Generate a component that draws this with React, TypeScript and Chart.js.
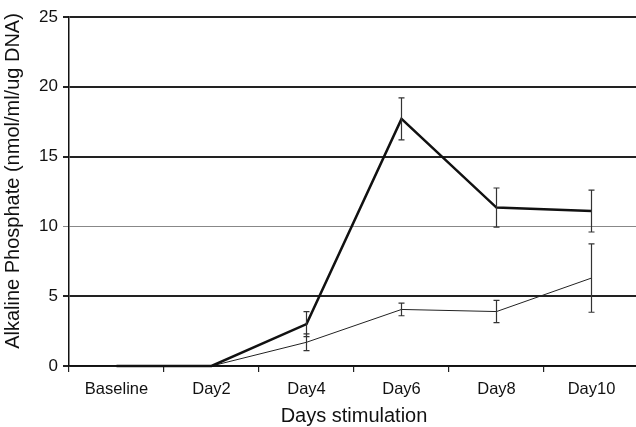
import React, { useEffect, useRef } from "react";
import { Chart, registerables } from "chart.js";

Chart.register(...registerables);

const categories = ["Baseline", "Day2", "Day4", "Day6", "Day8", "Day10"];
const upperSeries = [0, 0, 3.0, 17.7, 11.35, 11.1];
const upperErrors = [0, 0, 0.9, 1.5, 1.4, 1.5];
const lowerSeries = [0, 0, 1.7, 4.05, 3.9, 6.3];
const lowerErrors = [0, 0, 0.6, 0.45, 0.8, 2.45];
const yTicks = [0, 5, 10, 15, 20, 25];
const yTitle = "Alkaline Phosphate (nmol/ml/ug DNA)";
const xTitle = "Days stimulation";

const errorBarPlugin = {
  id: "errorBars",
  afterDatasetsDraw(chart: any) {
    const ctx = chart.ctx;
    const x = chart.scales.x;
    const y = chart.scales.y;
    chart.data.datasets.forEach((ds: any) => {
      const errs: number[] = ds.errors || [];
      ds.data.forEach((v: number, i: number) => {
        const e = errs[i];
        if (!e) return;
        const px = x.getPixelForValue(i);
        const top = y.getPixelForValue(v + e);
        const bot = y.getPixelForValue(v - e);
        ctx.save();
        ctx.strokeStyle = "#333";
        ctx.lineWidth = 1.2;
        ctx.beginPath();
        ctx.moveTo(px, top);
        ctx.lineTo(px, bot);
        ctx.moveTo(px - 3, top);
        ctx.lineTo(px + 3, top);
        ctx.moveTo(px - 3, bot);
        ctx.lineTo(px + 3, bot);
        ctx.stroke();
        ctx.restore();
      });
    });
  },
};

const yTitlePlugin = {
  id: "yTitle",
  afterDraw(chart: any) {
    const ctx = chart.ctx;
    ctx.save();
    ctx.translate(13, 181);
    ctx.rotate(-Math.PI / 2);
    ctx.fillStyle = "#111";
    ctx.font = "20px 'Liberation Sans'";
    ctx.textAlign = "center";
    ctx.textBaseline = "middle";
    ctx.fillText(yTitle, 0, 0);
    ctx.restore();
  },
};

export default function App() {
  const ref = useRef<HTMLCanvasElement>(null);
  useEffect(() => {
    document.body.style.margin = "0";
    const chart = new Chart(ref.current!, {
      type: "line",
      data: {
        labels: categories,
        datasets: [
          {
            data: upperSeries,
            errors: upperErrors,
            borderColor: "#111",
            borderWidth: 2.5,
            pointRadius: 0,
            tension: 0,
            fill: false,
            clip: false,
          } as any,
          {
            data: lowerSeries,
            errors: lowerErrors,
            borderColor: "#222",
            borderWidth: 1,
            pointRadius: 0,
            tension: 0,
            fill: false,
            clip: false,
          } as any,
        ],
      },
      options: {
        animation: false,
        responsive: false,
        layout: { padding: { top: 17, right: 1, bottom: 0, left: 0 } },
        plugins: { legend: { display: false }, tooltip: { enabled: false } },
        scales: {
          x: {
            offset: true,
            grid: {
              offset: true,
              drawOnChartArea: false,
              drawTicks: true,
              tickLength: 6,
              color: "#222",
              lineWidth: 1.2,
            },
            border: { display: true, color: "#111", width: 1.5 },
            ticks: {
              color: "#111",
              padding: 8,
              font: { family: "Liberation Sans", size: 16.5 },
              maxRotation: 0,
            },
            title: {
              display: true,
              text: xTitle,
              color: "#111",
              font: { family: "Liberation Sans", size: 20 },
              padding: { top: 0, bottom: -1 },
            },
            afterFit(scale: any) {
              scale.height = 61;
            },
          },
          y: {
            min: 0,
            max: 25,
            afterBuildTicks(scale: any) {
              scale.ticks = yTicks.map((v) => ({ value: v }));
            },
            grid: {
              drawTicks: true,
              tickLength: 6,
              color: (c: any) => (c.tick && c.tick.value === 10 ? "#888" : "#222"),
              lineWidth: (c: any) => (c.tick && c.tick.value === 10 ? 1 : 2),
            },
            border: { display: true, color: "#111", width: 1.5 },
            ticks: {
              color: "#111",
              padding: 5,
              font: { family: "Liberation Sans", size: 17 },
            },
            title: { display: false },
            afterFit(scale: any) {
              scale.width = 69;
            },
          },
        },
      },
      plugins: [errorBarPlugin, yTitlePlugin],
    });
    return () => chart.destroy();
  }, []);
  return (
    <div style={{ position: "fixed", left: 0, top: 0, width: 636, height: 427, overflow: "hidden", background: "#fff" }}>
      <canvas ref={ref} width={640} height={427} style={{ width: 640, height: 427, display: "block" }} />
    </div>
  );
}
